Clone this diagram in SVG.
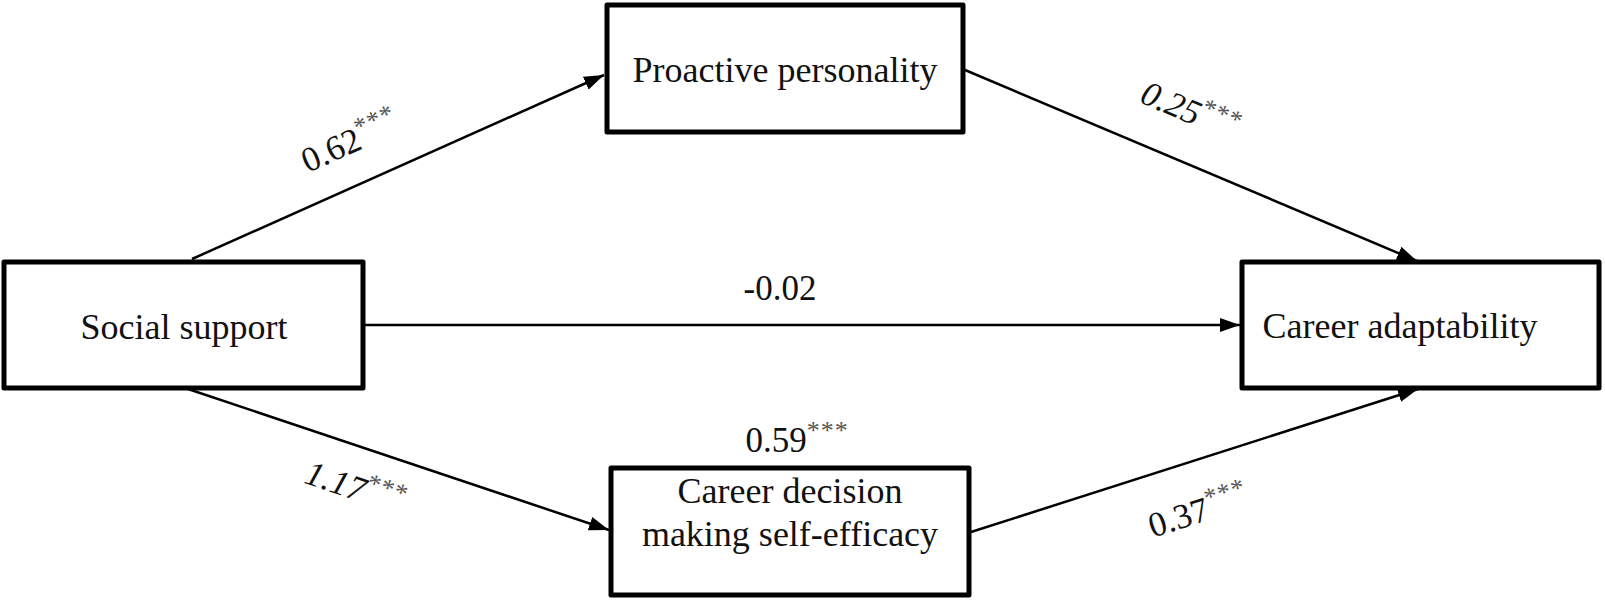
<svg xmlns="http://www.w3.org/2000/svg" width="1605" height="602" viewBox="0 0 1605 602">
<style>
.box{fill:#fff;stroke:#000;stroke-width:5;stroke-linejoin:round}
.lbl{font-family:"Liberation Serif","Times New Roman",serif;font-size:36px;fill:#111}
.coef{font-family:"Liberation Serif","Times New Roman",serif;font-size:35px;fill:#111}
.st{font-size:26px;fill:#555;letter-spacing:1px}
.it{font-style:italic}
.conn{stroke:#000;stroke-width:2.5;fill:none;marker-end:url(#ah)}
</style>
<defs>
<marker id="ah" viewBox="0 0 20 14" refX="20" refY="7" markerWidth="20" markerHeight="14" markerUnits="userSpaceOnUse" orient="auto">
<path d="M0,0 L20,7 L0,14 z" fill="#000"/>
</marker>
</defs>
<rect width="1605" height="602" fill="#fff"/>
<g id="connectors">
<line class="conn" x1="192" y1="259" x2="604" y2="75"/>
<line class="conn" x1="965" y1="70" x2="1417" y2="261"/>
<line class="conn" x1="364" y1="325" x2="1240" y2="325"/>
<line class="conn" x1="188" y1="389" x2="609" y2="530"/>
<line class="conn" x1="971" y1="532" x2="1418" y2="389"/>
</g>
<g id="labels">
<text class="coef" transform="translate(355,152) rotate(-24)" text-anchor="middle">0.62<tspan class="st" dy="-13">***</tspan></text>
<text class="coef" transform="translate(1186,122) rotate(23)" text-anchor="middle"><tspan class="it">0.25</tspan><tspan class="st" dy="-13">***</tspan></text>
<text class="coef" x="780" y="300" text-anchor="middle">-0.02</text>
<text class="coef" x="797" y="452" text-anchor="middle">0.59<tspan class="st" dy="-13">***</tspan></text>
<text class="coef" transform="translate(352,499) rotate(18.6)" text-anchor="middle"><tspan class="it">1.17</tspan><tspan class="st" dy="-13">***</tspan></text>
<text class="coef" transform="translate(1202,522) rotate(-17.7)" text-anchor="middle">0.37<tspan class="st" dy="-13">***</tspan></text>
</g>
<g id="node-proactive">
<rect class="box" x="607" y="5" width="356" height="127"/>
<text class="lbl" x="785" y="82" text-anchor="middle">Proactive personality</text>
</g>
<g id="node-social">
<rect class="box" x="4" y="262" width="359" height="126"/>
<text class="lbl" x="184" y="339" text-anchor="middle">Social support</text>
</g>
<g id="node-adapt">
<rect class="box" x="1242" y="262" width="357" height="126"/>
<text class="lbl" x="1400" y="338" text-anchor="middle">Career adaptability</text>
</g>
<g id="node-cdmse">
<rect class="box" x="611" y="468" width="358" height="127"/>
<text class="lbl" x="790" y="503" text-anchor="middle">Career decision</text>
<text class="lbl" x="790" y="546" text-anchor="middle">making self-efficacy</text>
</g>
</svg>
